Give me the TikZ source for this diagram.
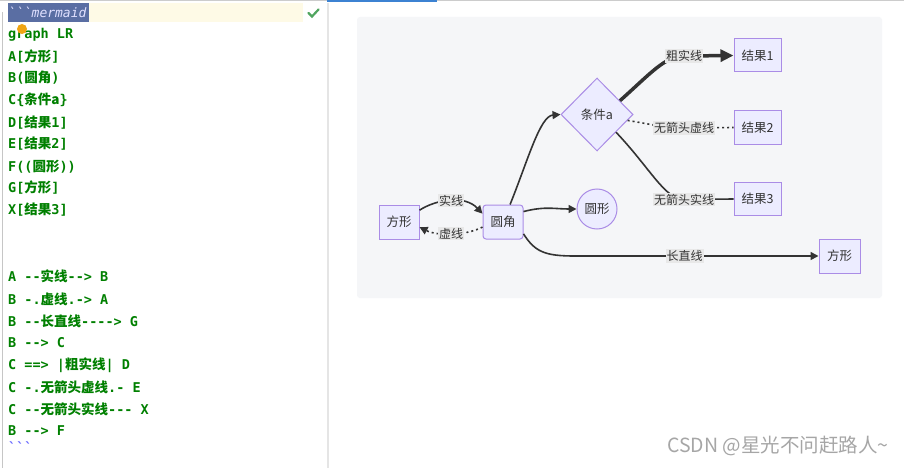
\documentclass[tikz,border=0pt]{standalone}
\usepackage{fontspec}
\setmonofont{DejaVu Sans Mono}
\newfontfamily\cjk{Noto Sans CJK SC}
\usetikzlibrary{arrows.meta, shapes.geometric}
\definecolor{codegreen}{RGB}{0,128,0}
\definecolor{nodefill}{RGB}{236,236,255}
\definecolor{nodeline}{RGB}{170,140,230}
\definecolor{edgecol}{RGB}{51,51,51}
\definecolor{panelbg}{RGB}{245,246,248}
\definecolor{lblbg}{RGB}{232,232,232}
\definecolor{selbg}{RGB}{90,110,163}
\definecolor{curline}{RGB}{254,250,230}
\definecolor{tabblue}{RGB}{60,130,210}
\definecolor{tickgreen}{RGB}{80,165,95}
\definecolor{dotorange}{RGB}{240,165,20}
\newcommand{\zh}[1]{{\cjk\bfseries #1}}

\begin{document}
\begin{tikzpicture}[x=1pt, y=-1pt, >={Triangle[length=8pt,width=8pt]},
  code/.style={anchor=west, inner sep=0pt, text=codegreen, font=\fontsize{13.5}{16}\ttfamily\bfseries},
  box/.style={draw=nodeline, fill=nodefill, line width=1pt, minimum width=40pt, minimum height=34pt,
    inner sep=0pt, text=edgecol, font=\fontsize{12.5}{15}\cjk},
  result/.style={box, minimum width=47pt, minimum height=33pt},
  lbl/.style={fill=lblbg, inner sep=1pt, text=edgecol, font=\fontsize{12}{14}\cjk},
  edge/.style={draw=edgecol, line width=1.6pt},
  dots/.style={edge, dash pattern=on 2pt off 3pt},
  thickedge/.style={draw=edgecol, line width=3.5pt, -{Triangle[length=13pt,width=12pt]}}]
  \useasboundingbox (0,0) rectangle (904,468);
  \fill[white] (0,0) rectangle (904,468);

  % Editor pane: frame lines
  \draw[gray!40, line width=1pt] (0,0.5) -- (904,0.5);
  \draw[tabblue, line width=2pt] (327,1) -- (437,1);
  \draw[gray!45, line width=0.8pt] (2.5,12) -- (2.5,468);
  \draw[gray!20, line width=1.5pt] (328,3) -- (328,468);
  \fill[curline] (8,3) rectangle (303,22);
  \fill[selbg] (8,3) rectangle (89,22);
  \draw[tickgreen, line width=2.2pt, line cap=round] (308.5,13) -- (312,16.5) -- (318.5,9.5);

  % Editor pane: mermaid source
  \node[code, text=white!88!blue, font=\fontsize{13}{16}\ttfamily\itshape] (l0) at (8,12.5) {```mermaid};
  \node[code] (l1) at (8,35) {graph LR};
  \node[code] (l2) at (8,57) {A[\zh{方形}]};
  \node[code] (l3) at (8,78) {B(\zh{圆角})};
  \node[code] (l4) at (8,100) {C\{\zh{条件a}\}};
  \node[code] (l5) at (8,123) {D[\zh{结果}1]};
  \node[code] (l6) at (8,144) {E[\zh{结果}2]};
  \node[code] (l7) at (8,167) {F((\zh{圆形}))};
  \node[code] (l8) at (8,188) {G[\zh{方形}]};
  \node[code] (l9) at (8,210) {X[\zh{结果}3]};
  \node[code] (l10) at (8,276) {A --\zh{实线}--> B};
  \node[code] (l11) at (8,299) {B -.\zh{虚线}.-> A};
  \node[code] (l12) at (8,321) {B --\zh{长直线}----> G};
  \node[code] (l13) at (8,343) {B --> C};
  \node[code] (l14) at (8,365) {C ==> |\zh{粗实线}| D};
  \node[code] (l15) at (8,387) {C -.\zh{无箭头虚线}.- E};
  \node[code] (l16) at (8,409) {C --\zh{无箭头实线}--- X};
  \node[code] (l17) at (8,431) {B --> F};
  \node[code, text=blue!60!white] (l18) at (8,447) {```};
  \fill[dotorange] (22,29) circle (5);

  % Preview pane
  \fill[panelbg, rounded corners=3pt] (357,17) rectangle (882,298);
  \node[box] (A) at (399,222) {方形};
  \node[box, rounded corners=3pt] (B) at (503,222) {圆角};
  \node[box, shape=diamond, minimum width=72pt, minimum height=73pt] (C) at (597,114.5) {条件a};
  \node[box, circle, minimum size=40pt] (F) at (597,209) {圆形};
  \node[result] (D) at (757.5,55.5) {结果1};
  \node[result] (E) at (757.5,127.5) {结果2};
  \node[result] (X) at (757.5,199) {结果3};
  \node[box, minimum width=41pt] (G) at (839.5,256) {方形};
  \coordinate (gbend) at (575,256);
  \coordinate (dbend) at (684,56);
  \coordinate (ebend) at (684,128);
  \coordinate (xbend) at (684,199.5);

  \draw[edge, ->] (A.30) .. controls (437,199) and (465,195) .. (B.158) node[lbl, pos=.5] {实线};
  \draw[dots, ->] (B.194) .. controls (465,236) and (437,236) .. (A.-14) node[lbl, pos=.5] {虚线};
  \draw[edge, ->] (B.68) .. controls (528,160) and (540,116) .. (C.west);
  \draw[edge, ->] (B.27) .. controls (545,206) and (555,209) .. (F.west);
  \draw[edge, ->] (B.-30) .. controls (535,252) and (545,256) .. (gbend) -- (G.west) node[lbl, pos=.45] {长直线};
  \draw[thickedge] (C.31) .. controls (650,74) and (665,56) .. (dbend) node[lbl] {粗实线} -- (D.west);
  \draw[dots] (C.-11) .. controls (650,124) and (665,128) .. (ebend) node[lbl] {无箭头虚线} -- (E.west);
  \draw[edge] (C.-43) .. controls (650,168) and (665,199.5) .. (xbend) node[lbl] {无箭头实线} -- (X.west);

  % Watermark
  \node[text=gray!70, font=\fontsize{19.5}{22}\cjk, inner sep=0pt] (mark) at (778,446) {CSDN @星光不问赶路人\textasciitilde};
\end{tikzpicture}
\end{document}
